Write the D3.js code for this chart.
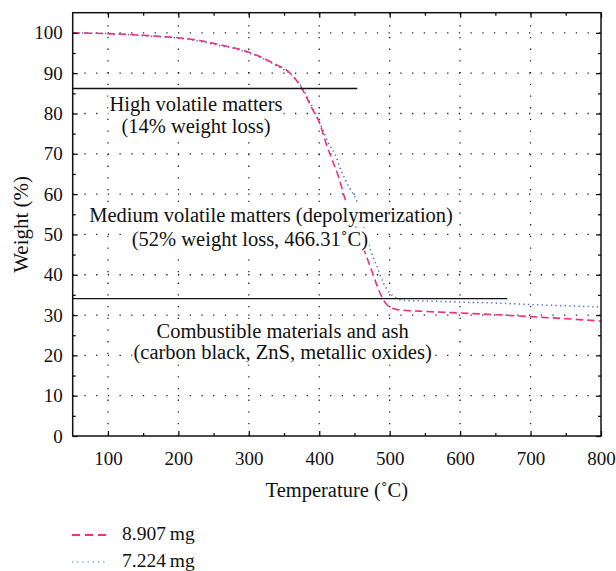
<!DOCTYPE html>
<html>
<head>
<meta charset="utf-8">
<script src="https://cdn.jsdelivr.net/npm/d3@7"></script>
<style>
  body { margin: 0; background: #fff; }
  text { font-family: "Liberation Serif", "DejaVu Serif", serif; fill: #111; }
</style>
</head>
<body>
<svg></svg>
<script>
// TGA curves
const temp8907   = [50, 100, 150, 175, 200, 230, 260, 295, 320, 340, 352, 365, 375, 389, 401, 410, 417, 427, 436, 445, 455, 465, 475, 481, 488, 494, 500, 510, 519, 550, 600, 650, 700, 750, 800];
const weight8907 = [100, 99.8, 99.4, 99.1, 98.8, 98.1, 97, 95.5, 93.8, 92, 91, 88.8, 86.3, 81.5, 77.4, 72.4, 69.1, 64.5, 59.2, 55, 50.3, 45.5, 40.8, 37.8, 34.8, 33, 32, 31.4, 31.2, 30.9, 30.5, 30.1, 29.6, 29.1, 28.5];
const temp7224   = [50, 100, 150, 200, 260, 295, 340, 365, 377, 392, 405, 415, 422, 432, 443, 453, 460, 466, 474, 481, 491, 500, 507, 515, 524, 550, 600, 650, 700, 750, 800];
const weight7224 = [100, 99.8, 99.3, 98.7, 96.8, 95.3, 91.8, 88.8, 86, 81, 76, 72, 70, 65.5, 61.5, 58.4, 54, 50, 45.6, 42.5, 38, 35.5, 34.5, 33.8, 33.6, 33.5, 33.2, 33, 32.6, 32.3, 32];

const seriesNames = ["8.907\u2009mg", "7.224\u2009mg"];
const xTicks = [100, 200, 300, 400, 500, 600, 700, 800];
const xMinor = [150, 250, 350, 450, 550, 650, 750];
const yTicks = [0, 10, 20, 30, 40, 50, 60, 70, 80, 90, 100];
const yMinor = [5, 15, 25, 35, 45, 55, 65, 75, 85, 95];

// stage boundaries (weight level, where the line ends)
const stageLevels = [86.2, 34.1];
const stageEnds = [454, 667];
const stageLabels = [
  ["High volatile matters", "(14% weight loss)"],
  ["Medium volatile matters (depolymerization)", "(52% weight loss, 466.31\u02DAC)"],
  ["Combustible materials and ash", "(carbon black, ZnS, metallic oxides)"]
];

let width = 616, height = 571;
let svg = d3.select("svg").attr("width", width).attr("height", height);

let mLeft = 72.7, mRight = 601, mTop = 12.7, mBottom = 436;
let x = d3.scaleLinear().domain([50, 800]).range([mLeft, mRight]);
let y = d3.scaleLinear().domain([0, 105]).range([mBottom, mTop]);

// dotted grid
let grid = svg.append("g").attr("stroke", "#222").attr("stroke-width", 1.3)
  .attr("stroke-dasharray", "1.3,10.4");
grid.selectAll(".gx").data(xTicks.slice(0, -1)).enter().append("line")
  .attr("x1", d => x(d)).attr("x2", d => x(d)).attr("y1", mBottom).attr("y2", mTop);
grid.selectAll(".gy").data(yTicks.slice(1)).enter().append("line")
  .attr("y1", d => y(d)).attr("y2", d => y(d)).attr("x1", mLeft).attr("x2", mRight);

// curves
let pink = "#f0307f", blue = "#4a6ad0";
let line = d3.line().x(d => x(d[0])).y(d => y(d[1])).curve(d3.curveMonotoneX);
svg.append("path").datum(d3.zip(temp7224, weight7224))
  .attr("fill", "none").attr("stroke", blue).attr("stroke-width", 1.5)
  .attr("stroke-dasharray", "1.3,3.3").attr("d", line);
svg.append("path").datum(d3.zip(temp8907, weight8907))
  .attr("fill", "none").attr("stroke", pink).attr("stroke-width", 1.6)
  .attr("stroke-dasharray", "7.5,4").attr("d", line);

// stage separators
svg.selectAll(".stage").data(stageLevels).enter().append("line")
  .attr("x1", mLeft).attr("x2", (d, i) => x(stageEnds[i]))
  .attr("y1", d => y(d)).attr("y2", d => y(d))
  .attr("stroke", "#111").attr("stroke-width", 1.3);

// stage labels with white background (all boxes first, then texts)
let labelPos = [
  [[225, 80.7], [225, 75.2]],
  [[331.6, 53.2], [301.6, 47.2]],
  [[348, 24.2], [348, 19.0]]
];
let boxes = svg.append("g");
let labels = svg.append("g");
stageLabels.forEach((lines, i) => {
  lines.forEach((t, j) => {
    let txt = labels.append("text")
      .attr("x", x(labelPos[i][j][0])).attr("y", y(labelPos[i][j][1]))
      .attr("text-anchor", "middle").attr("font-size", 20.5).text(t);
    let bb = txt.node().getBBox();
    boxes.append("rect").attr("x", bb.x - 1).attr("y", bb.y)
      .attr("width", bb.width + 2).attr("height", bb.height).attr("fill", "#fff");
  });
});

// axes, ticks inward
function styleAxis(g) {
  g.select(".domain").remove();
  g.attr("font-family", null);
  g.selectAll("line").attr("stroke", "#111").attr("stroke-width", 1.3);
  g.selectAll("text").attr("font-size", 19).attr("fill", "#111");
}
svg.append("g").attr("transform", "translate(0," + mBottom + ")")
  .call(d3.axisBottom(x).tickValues(xTicks).tickSize(-5).tickPadding(16)).call(styleAxis);
svg.append("g").attr("transform", "translate(0," + mBottom + ")")
  .call(d3.axisBottom(x).tickValues(xMinor).tickSize(-3).tickFormat("")).call(styleAxis);
svg.append("g").attr("transform", "translate(0," + mTop + ")")
  .call(d3.axisTop(x).tickValues(xTicks).tickSize(-5).tickFormat("")).call(styleAxis);
svg.append("g").attr("transform", "translate(0," + mTop + ")")
  .call(d3.axisTop(x).tickValues(xMinor).tickSize(-3).tickFormat("")).call(styleAxis);
svg.append("g").attr("transform", "translate(" + mLeft + ",0)")
  .call(d3.axisLeft(y).tickValues(yTicks).tickSize(-5).tickPadding(10)).call(styleAxis);
svg.append("g").attr("transform", "translate(" + mLeft + ",0)")
  .call(d3.axisLeft(y).tickValues(yMinor).tickSize(-3).tickFormat("")).call(styleAxis);
svg.append("g").attr("transform", "translate(" + mRight + ",0)")
  .call(d3.axisRight(y).tickValues(yTicks).tickSize(-5).tickFormat("")).call(styleAxis);
svg.append("g").attr("transform", "translate(" + mRight + ",0)")
  .call(d3.axisRight(y).tickValues(yMinor).tickSize(-3).tickFormat("")).call(styleAxis);

svg.append("rect").attr("x", mLeft).attr("y", mTop)
  .attr("width", mRight - mLeft).attr("height", mBottom - mTop)
  .attr("fill", "none").attr("stroke", "#111").attr("stroke-width", 1.5);

// axis titles
svg.append("text").attr("x", (mLeft + mRight) / 2).attr("y", 497)
  .attr("text-anchor", "middle").attr("font-size", 20.5).text("Temperature (\u02DAC)");
svg.append("text").attr("transform", "translate(28," + ((mTop + mBottom) / 2) + ") rotate(-90)")
  .attr("text-anchor", "middle").attr("font-size", 21).text("Weight (%)");

// legend
let legend = svg.append("g");
let legendStyles = [
  { color: pink, dash: "8,5", w: 1.8 },
  { color: blue, dash: "1.2,4", w: 1.2 }
];
seriesNames.forEach((name, i) => {
  let yy = 535 + i * 27;
  legend.append("line").attr("x1", 72).attr("x2", 107).attr("y1", yy).attr("y2", yy)
    .attr("stroke", legendStyles[i].color).attr("stroke-width", legendStyles[i].w)
    .attr("stroke-dasharray", legendStyles[i].dash);
  legend.append("text").attr("x", 122).attr("y", yy + 5)
    .attr("font-size", 19.5).text(name);
});
</script>
</body>
</html>
